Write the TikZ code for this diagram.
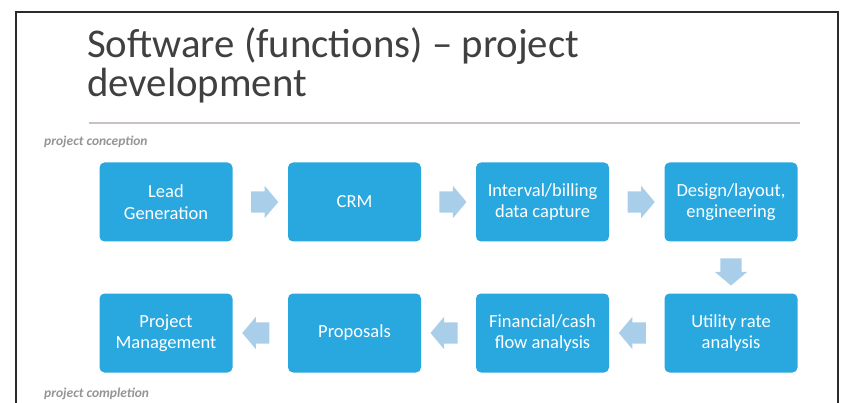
\documentclass[tikz,border=0pt]{standalone}
\usepackage{fontspec}
\setmainfont{Carlito}
\usetikzlibrary{shapes.arrows,calc}

\definecolor{boxblue}{HTML}{29A8E0}
\definecolor{arrowblue}{HTML}{A9CEEA}
\definecolor{titlegray}{HTML}{404040}
\definecolor{rulegray}{HTML}{C9C2BE}
\definecolor{notegray}{HTML}{959595}
\definecolor{framegray}{HTML}{2B2B2B}

\begin{document}
\begin{tikzpicture}[x=1pt,y=-1pt,
  stagebox/.style={fill=boxblue, rounded corners=5pt, minimum width=133pt,
    minimum height=79pt, inner sep=0pt, text=white, align=center,
    font=\fontsize{18.5}{21.5}\selectfont},
  flowarrow/.style={single arrow, fill=arrowblue, draw=none,
    inner xsep=4pt, inner ysep=10.5pt,
    minimum height=27pt, single arrow head extend=5.5pt,
    single arrow tip angle=100},
  downarrow/.style={flowarrow, shape border rotate=270,
    inner xsep=10.5pt, inner ysep=4pt},
  leftarrow/.style={flowarrow, shape border rotate=180},
  titletext/.style={anchor=base west, inner sep=0pt, text=titlegray,
    font=\fontsize{40.8}{41}\selectfont},
  notetext/.style={anchor=base west, inner sep=0pt, text=notegray,
    font=\fontsize{13.5}{14}\selectfont\bfseries\itshape},
]
\useasboundingbox (0,0) rectangle (851,403);

% slide frame (open at the bottom)
\draw[framegray, line width=2pt] (16,403) -- (16,12) -- (838,12) -- (838,403);

% title and rule
\node[titletext] (title1) at (87,58) {Software (functions) -- project};
\node[titletext] (title2) at (87,97) {development};
\draw[rulegray, line width=2pt] (89,123) -- (800,123);

% phase labels
\node[notetext] (start) at (44,146) {project conception};
\node[notetext] (finish) at (44,397) {project completion};

% process stages
\node[stagebox] (lead)      at (166,202)   {Lead\\Generation};
\node[stagebox] (crm)       at (354.5,202) {CRM};
\node[stagebox] (interval)  at (542.5,202) {Interval/billing\\data capture};
\node[stagebox] (design)    at (731,202)   {Design/layout,\\engineering};
\node[stagebox] (utility)   at (731,333)   {Utility rate\\analysis};
\node[stagebox] (financial) at (542.5,333) {Financial/cash\\flow analysis};
\node[stagebox] (proposals) at (354.5,333) {Proposals};
\node[stagebox] (pm)        at (166,333)   {Project\\Management};

% block arrows between stages
\node[flowarrow] (a1) at ($(lead.east)!0.5!(crm.west)$) {};
\node[flowarrow] (a2) at ($(crm.east)!0.5!(interval.west)$) {};
\node[flowarrow] (a3) at ($(interval.east)!0.5!(design.west)$) {};
\node[downarrow] (a4) at ($(design.south)!0.5!(utility.north)$) {};
\node[leftarrow] (a5) at ($(utility.west)!0.5!(financial.east)$) {};
\node[leftarrow] (a6) at ($(financial.west)!0.5!(proposals.east)$) {};
\node[leftarrow] (a7) at ($(proposals.west)!0.5!(pm.east)$) {};
\end{tikzpicture}
\end{document}
